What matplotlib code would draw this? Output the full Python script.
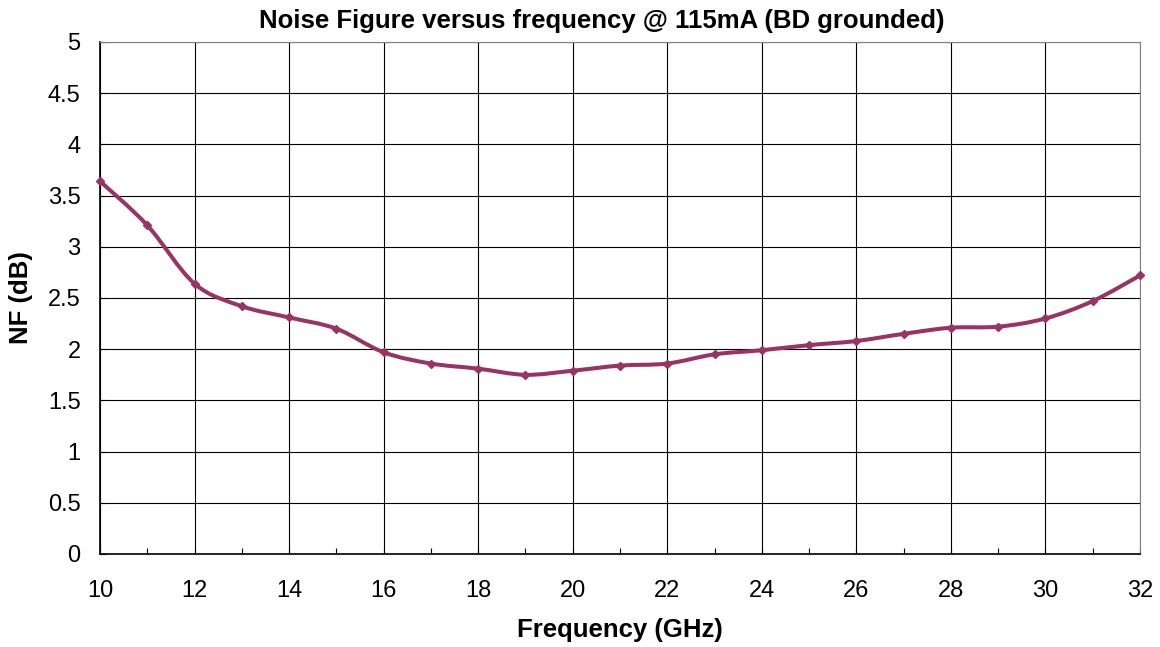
import matplotlib.pyplot as plt
import numpy as np
from matplotlib.path import Path
from matplotlib.patches import PathPatch
from matplotlib.ticker import MultipleLocator

plt.rcParams['font.family'] = ['Liberation Sans', 'DejaVu Sans']

# data
freq = np.arange(10, 33)  # GHz
nf = [3.64, 3.21, 2.64, 2.42, 2.31, 2.20, 1.97, 1.86, 1.81, 1.75, 1.79, 1.84,
      1.86, 1.95, 1.99, 2.04, 2.08, 2.15, 2.21, 2.22, 2.30, 2.47, 2.72]
ytick_vals = [0, 0.5, 1, 1.5, 2, 2.5, 3, 3.5, 4, 4.5, 5]
ytick_labels = ['0', '0.5', '1', '1.5', '2', '2.5', '3', '3.5', '4', '4.5', '5']

color = '#993366'

fig = plt.figure(figsize=(11.6, 6.47), dpi=100)
ax = fig.add_axes([100 / 1160, 93 / 647, 1040 / 1160, 512 / 647])

# smoothed line like excel (bezier through each point)
pts = np.column_stack([freq, nf]).astype(float)
ext = np.vstack([pts[0], pts, pts[-1]])
verts = [tuple(pts[0])]
codes = [Path.MOVETO]
for i in range(len(pts) - 1):
    p0, p1, p2, p3 = ext[i], ext[i + 1], ext[i + 2], ext[i + 3]
    c1 = p1 + (p2 - p0) / 6
    c2 = p2 - (p3 - p1) / 6
    verts += [tuple(c1), tuple(c2), tuple(p2)]
    codes += [Path.CURVE4] * 3
ax.add_patch(PathPatch(Path(verts, codes), facecolor='none', edgecolor=color,
                       lw=2.9, capstyle='round', joinstyle='round', zorder=3,
                       clip_on=False))
ax.plot(freq, nf, ls='none', marker='D', ms=4, color=color, zorder=4,
        clip_on=False)

ax.set_xlim(10, 32)
ax.set_ylim(0, 5)
ax.xaxis.set_major_locator(MultipleLocator(2))
ax.xaxis.set_minor_locator(MultipleLocator(1))
ax.set_yticks(ytick_vals)
ax.set_yticklabels(ytick_labels)
ax.grid(True, which='major', color='black', lw=0.8)
ax.set_axisbelow(True)
ax.tick_params(which='both', direction='in', labelsize=17, length=4, width=0.8,
               colors='black')
ax.tick_params(axis='x', pad=19)
ax.tick_params(axis='y', pad=14)

for s in ['top', 'right']:
    ax.spines[s].set_color('#808080')
for s in ['left', 'bottom']:
    ax.spines[s].set_color('black')
    ax.spines[s].set_linewidth(1.2)

# title is centred on the chart area, not on the plot
fig.text(602 / 1160, 1 - 21 / 647, 'Noise Figure versus frequency @ 115mA (BD grounded)',
         fontsize=18.5, fontweight='bold', ha='center', va='center')
ax.set_xlabel('Frequency (GHz)', fontsize=18.5, fontweight='bold', labelpad=11)
ax.set_ylabel('NF (dB)', fontsize=18.5, fontweight='bold', labelpad=11)

fig.savefig('out.png', dpi=100)
